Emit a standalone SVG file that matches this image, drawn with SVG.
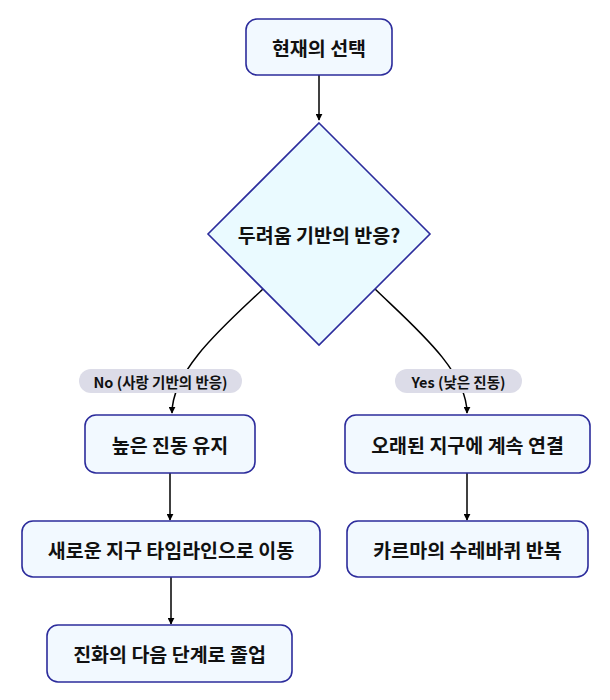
<svg xmlns="http://www.w3.org/2000/svg" width="610" height="700" viewBox="0 0 610 700">
<defs>
<marker id="ah" viewBox="0 0 10 10" refX="9" refY="5" markerWidth="7" markerHeight="7" markerUnits="userSpaceOnUse" orient="auto">
<path d="M0,0 L10,5 L0,10 z" fill="#000"/>
</marker>
<style>
.n{fill:#f2f9ff;stroke:#2c2c9c;stroke-width:1.6}
.d{fill:#eafaff;stroke:#2c2c9c;stroke-width:1.6}
.t{font-family:"Noto Sans CJK KR","Noto Sans",sans-serif;font-weight:bold;font-size:19.5px;fill:#111;text-anchor:middle;dominant-baseline:central}
.lt{font-family:"Noto Sans CJK KR","Noto Sans",sans-serif;font-weight:bold;font-size:14.5px;fill:#111;text-anchor:middle;dominant-baseline:central}
.lb{fill:#dcdce8}
.c{fill:none;stroke:#000;stroke-width:1.5;marker-end:url(#ah)}
</style>
</defs>
<rect width="610" height="700" fill="#fff"/>
<g id="connectors">
<path class="c" d="M319,75 L319,120"/>
<path class="c" d="M263,289 C225,325 172,370 172,413"/>
<path class="c" d="M374,288 C412,325 467,370 467,413"/>
<path class="c" d="M170,473 L170,520"/>
<path class="c" d="M467,473 L467,520"/>
<path class="c" d="M171,577 L171,624"/>
</g>
<g id="label-no">
<rect class="lb" x="79" y="369" width="163" height="24" rx="12"/>
<text class="lt" x="160.5" y="381">No (사랑 기반의 반응)</text>
</g>
<g id="label-yes">
<rect class="lb" x="395" y="369" width="127" height="24" rx="12"/>
<text class="lt" x="458.5" y="381">Yes (낮은 진동)</text>
</g>
<g id="n1">
<rect class="n" x="246" y="19" width="146" height="56" rx="11"/>
<text class="t" x="319" y="47">현재의 선택</text>
</g>
<g id="n2">
<polygon class="d" points="319,123 430,234 319,345 208,234"/>
<text class="t" x="319" y="234">두려움 기반의 반응?</text>
</g>
<g id="n3">
<rect class="n" x="85" y="415" width="170" height="58" rx="11"/>
<text class="t" x="170" y="444">높은 진동 유지</text>
</g>
<g id="n4">
<rect class="n" x="345" y="415" width="245" height="58" rx="11"/>
<text class="t" x="467.5" y="444">오래된 지구에 계속 연결</text>
</g>
<g id="n5">
<rect class="n" x="22" y="521" width="298" height="56" rx="11"/>
<text class="t" x="171" y="549">새로운 지구 타임라인으로 이동</text>
</g>
<g id="n6">
<rect class="n" x="347" y="521" width="241" height="56" rx="11"/>
<text class="t" x="467.5" y="549">카르마의 수레바퀴 반복</text>
</g>
<g id="n7">
<rect class="n" x="47" y="625" width="245" height="57" rx="11"/>
<text class="t" x="169.5" y="653.5">진화의 다음 단계로 졸업</text>
</g>
</svg>
